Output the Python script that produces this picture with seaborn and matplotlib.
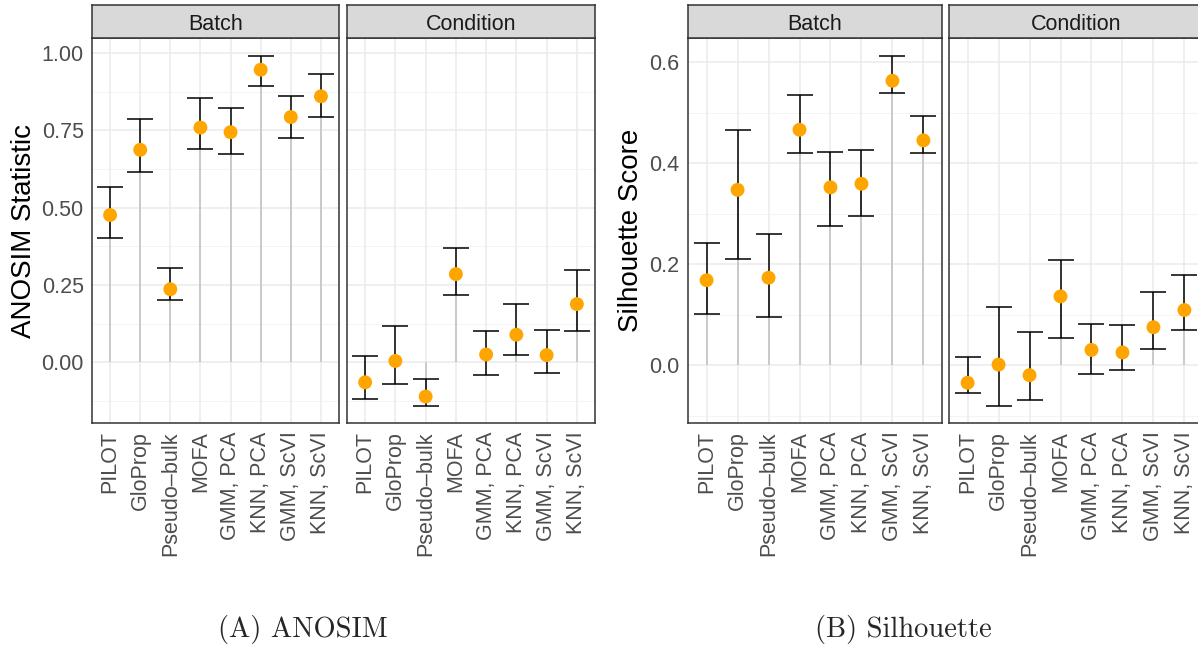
import matplotlib
matplotlib.use("Agg")
import matplotlib.pyplot as plt
import numpy as np
import pandas as pd
import seaborn as sns

methods = ["PILOT", "GloProp", "Pseudo\u2013bulk", "MOFA",
           "GMM, PCA", "KNN, PCA", "GMM, ScVI", "KNN, ScVI"]
facets = ["Batch", "Condition"]

# ANOSIM statistic (mean, lower, upper)
anosim_batch = [0.476, 0.687, 0.236, 0.759, 0.744, 0.946, 0.793, 0.860]
anosim_batch_lo = [0.403, 0.615, 0.201, 0.690, 0.674, 0.894, 0.725, 0.792]
anosim_batch_hi = [0.566, 0.787, 0.306, 0.854, 0.822, 0.992, 0.860, 0.931]
anosim_cond = [-0.065, 0.004, -0.111, 0.285, 0.025, 0.089, 0.023, 0.188]
anosim_cond_lo = [-0.120, -0.069, -0.140, 0.217, -0.040, 0.024, -0.036, 0.102]
anosim_cond_hi = [0.020, 0.117, -0.055, 0.370, 0.101, 0.188, 0.104, 0.299]

# Silhouette score (mean, lower, upper)
sil_batch = [0.168, 0.347, 0.173, 0.466, 0.352, 0.359, 0.563, 0.445]
sil_batch_lo = [0.102, 0.211, 0.096, 0.419, 0.276, 0.295, 0.538, 0.419]
sil_batch_hi = [0.241, 0.465, 0.259, 0.534, 0.422, 0.425, 0.613, 0.493]
sil_cond = [-0.035, 0.001, -0.020, 0.136, 0.030, 0.025, 0.075, 0.109]
sil_cond_lo = [-0.055, -0.080, -0.070, 0.053, -0.018, -0.010, 0.032, 0.070]
sil_cond_hi = [0.017, 0.116, 0.065, 0.208, 0.082, 0.079, 0.145, 0.178]

anosim_yticks = [0.0, 0.25, 0.5, 0.75, 1.0]
anosim_yticklabels = ["0.00", "0.25", "0.50", "0.75", "1.00"]
sil_yticks = [0.0, 0.2, 0.4, 0.6]
sil_yticklabels = ["0.0", "0.2", "0.4", "0.6"]


def make_df(b, b_lo, b_hi, c, c_lo, c_hi):
    rows = []
    for facet, m, lo, hi in [("Batch", b, b_lo, b_hi), ("Condition", c, c_lo, c_hi)]:
        for name, v, l, h in zip(methods, m, lo, hi):
            rows.append({"method": name, "facet": facet, "value": v, "lo": l, "hi": h})
    return pd.DataFrame(rows)


anosim_df = make_df(anosim_batch, anosim_batch_lo, anosim_batch_hi,
                    anosim_cond, anosim_cond_lo, anosim_cond_hi)
sil_df = make_df(sil_batch, sil_batch_lo, sil_batch_hi,
                 sil_cond, sil_cond_lo, sil_cond_hi)

sns.set_theme(style="white")
plt.rcParams["font.family"] = ["Liberation Sans", "DejaVu Sans"]

W, H = 1198, 645
fig = plt.figure(figsize=(W / 100, H / 100), dpi=100)


def px_axes(x0, y0, x1, y1):
    return fig.add_axes([x0 / W, 1 - y1 / H, (x1 - x0) / W, (y1 - y0) / H])


def pad_limits(lo, hi):
    r = hi - lo
    return lo - 0.05 * r, hi + 0.05 * r


def draw_panel(df, lefts, ylabel, ylabel_x, yticks, yticklabels, caption, caption_x):
    ymin, ymax = pad_limits(df["lo"].min(), df["hi"].max())
    step = yticks[1] - yticks[0]
    minor = np.arange(yticks[0] - step / 2, ymax, step)
    top, bottom = 38, 423
    for i, (facet, (x0, x1)) in enumerate(zip(facets, lefts)):
        sub = df[df["facet"] == facet]
        ax = px_axes(x0, top, x1, bottom)
        ax.set_facecolor("white")
        xs = np.arange(len(methods))
        for yv in minor:
            ax.axhline(yv, color="#f2f2f2", lw=0.6, zorder=0)
        for yv in yticks:
            ax.axhline(yv, color="#ebebeb", lw=1.1, zorder=0)
        for xv in xs:
            ax.axvline(xv, color="#ebebeb", lw=1.1, zorder=0)
        # lollipop stem from zero to the estimate
        ax.vlines(xs, 0, sub["value"], color="#bfbfbf", lw=1.1, zorder=1)
        ax.errorbar(xs, sub["value"],
                    yerr=[sub["value"] - sub["lo"], sub["hi"] - sub["value"]],
                    fmt="none", ecolor="black", elinewidth=1.1, capsize=9.5,
                    capthick=1.1, zorder=2)
        sns.scatterplot(x=xs, y=sub["value"].to_numpy(), ax=ax, color="#FFA500",
                        s=100, edgecolor="none", linewidth=0, zorder=3, legend=False)
        ax.set_xlim(-0.6, len(methods) - 0.4)
        ax.set_ylim(ymin, ymax)
        ax.set_xticks(xs)
        ax.set_xticklabels(methods, rotation=90, ha="center", va="top",
                           fontsize=15.5, color="#4d4d4d")
        ax.set_yticks(yticks)
        ax.tick_params(axis="both", which="major", length=4, width=0.8,
                       color="#333333", pad=2, direction="out")
        if i == 0:
            ax.set_yticklabels(yticklabels, fontsize=15.5, color="#4d4d4d")
        else:
            ax.set_yticklabels([])
            ax.tick_params(axis="y", length=0)
        ax.grid(False)
        ax.set_xlabel("")
        ax.set_ylabel("")
        for sp in ax.spines.values():
            sp.set_color("#333333")
            sp.set_linewidth(1.1)
            sp.set_visible(True)
        # facet strip
        sax = px_axes(x0, 5, x1, top)
        sax.set_xticks([])
        sax.set_yticks([])
        sax.set_facecolor("#d9d9d9")
        for sp in sax.spines.values():
            sp.set_color("#333333")
            sp.set_linewidth(1.1)
        sax.text(0.5, 0.42, facet, ha="center", va="center", fontsize=15.5,
                 color="#1a1a1a", transform=sax.transAxes)
    fig.text(ylabel_x / W, 1 - (top + bottom) / 2 / H, ylabel, rotation=90,
             ha="center", va="center", fontsize=20, color="black")
    fig.text(caption_x / W, 1 - 629 / H, caption, ha="center", va="center",
             fontsize=20.5, family=["cmr10", "DejaVu Serif"])


draw_panel(anosim_df, [(92, 339), (347, 595)], "ANOSIM Statistic", 24,
           anosim_yticks, anosim_yticklabels, "(A) ANOSIM", 303)
draw_panel(sil_df, [(688, 942), (949, 1203)], "Silhouette Score", 631,
           sil_yticks, sil_yticklabels, "(B) Silhouette", 903)

fig.savefig("out.png", dpi=100)
